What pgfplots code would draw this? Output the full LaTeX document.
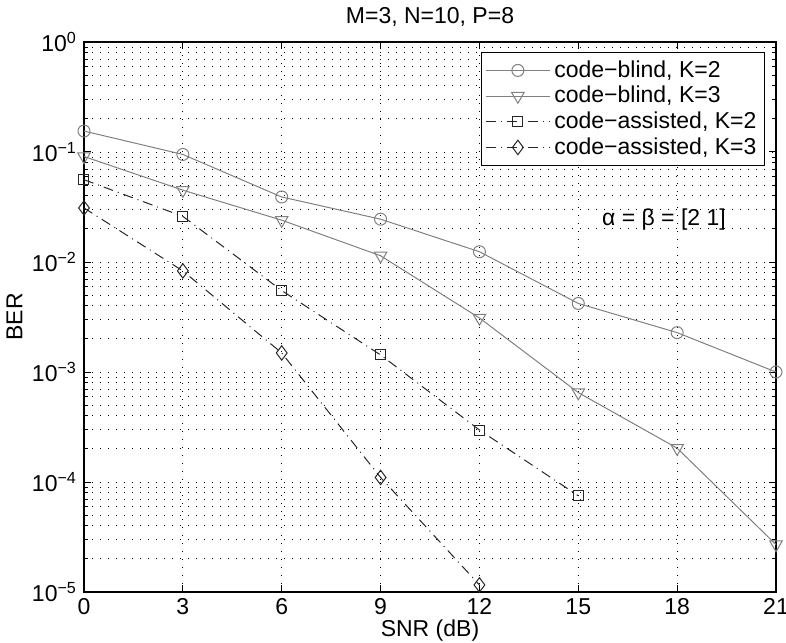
\documentclass[border=0pt]{standalone}
\usepackage{fontspec}
\setmainfont{Liberation Sans}
\usepackage{pgfplots}
\pgfplotsset{compat=1.18}
\newcommand\F{\fontsize{11.5}{13.5}\selectfont}
\begin{document}
\begin{tikzpicture}
\begin{axis}[
  name=ax,
  scale only axis,
  width=346pt, height=275pt,
  ymode=log,
  xmin=0, xmax=21, ymin=1e-5, ymax=1,
  xtick={0,3,...,21},
  xticklabels={0,3,6,9,12,15,18,21},
  ytick={1e-5,1e-4,1e-3,1e-2,1e-1,1},
  yticklabels={10\textsuperscript{−5},10\textsuperscript{−4},10\textsuperscript{−3},10\textsuperscript{−2},10\textsuperscript{−1},10\textsuperscript{0}},
  minor ytick={2e-5,3e-5,4e-5,5e-5,6e-5,7e-5,8e-5,9e-5,2e-4,3e-4,4e-4,5e-4,6e-4,7e-4,8e-4,9e-4,2e-3,3e-3,4e-3,5e-3,6e-3,7e-3,8e-3,9e-3,2e-2,3e-2,4e-2,5e-2,6e-2,7e-2,8e-2,9e-2,0.2,0.3,0.4,0.5,0.6,0.7,0.8,0.9},
  grid=both,
  major grid style={black, line width=0.4pt, dash pattern=on 0.5pt off 3.5pt},
  minor grid style={black, line width=0.4pt, dash pattern=on 0.5pt off 3.5pt},
  tick align=inside,
  major tick length=3.5pt, minor tick length=2pt,
  xtick pos=both, ytick pos=both,
  axis line style={line width=0.6pt},
  every tick/.style={black, line width=0.5pt},
  tick label style={font=\F},
  xticklabel style={inner sep=0pt, yshift=-3pt},
  label style={font=\F},
  xlabel={SNR (dB)}, ylabel={BER},
  xlabel style={at={(axis description cs:0.5,0)}, anchor=north, inner sep=0pt, yshift=-13.5pt},
  ylabel style={yshift=-2pt},
  title={M=3, N=10, P=8},
  title style={font=\F, yshift=-2pt},
  clip=false,
  legend cell align=left,
  legend style={at={(1,1)}, anchor=north east, xshift=-5.5pt, yshift=-5pt,
    draw=black, line width=0.6pt, row sep=-1pt, inner xsep=2pt, inner ysep=2pt,
    font=\F, nodes={inner sep=2pt}},
  legend image code/.code={\draw[mark repeat=2,mark phase=2] plot coordinates {(0pt,0pt) (16pt,0pt) (32pt,0pt)};},
]
\addplot[color=black!50, line width=0.5pt, mark=o, mark size=3pt, mark options={solid}] coordinates {
(0,0.155) (3,0.095) (6,0.039) (9,0.0245) (12,0.0124) (15,0.0042) (18,0.00228) (21,0.00100)};
\addlegendentry{code−blind, K=2}
\addplot[color=black!50, line width=0.5pt, mark=triangle, mark size=3.6pt, mark options={solid, rotate=180}] coordinates {
(0,0.091) (3,0.045) (6,0.024) (9,0.0114) (12,0.0031) (15,0.00065) (18,0.000203) (21,2.7e-5)};
\addlegendentry{code−blind, K=3}
\addplot[color=black!85, line width=0.5pt, dash pattern=on 5pt off 2.5pt on 0.5pt off 2.5pt, mark=square, mark size=2.5pt, mark options={solid}] coordinates {
(0,0.056) (3,0.026) (6,0.0055) (9,0.00143) (12,0.000297) (15,7.5e-5)};
\addlegendentry{code−assisted, K=2}
\addplot[color=black!85, line width=0.5pt, dash pattern=on 5pt off 2.5pt on 0.5pt off 2.5pt, mark=diamond, mark size=3.6pt, mark options={solid}] coordinates {
(0,0.031) (3,0.0083) (6,0.00149) (9,0.00011) (12,1.16e-5)};
\addlegendentry{code−assisted, K=3}
\node[font=\F] at (axis cs:17.6,0.0245) {α = β = [2 1]};
\end{axis}
\pgfresetboundingbox
\path[use as bounding box] ([xshift=-42pt,yshift=-25pt]ax.south west) rectangle ([xshift=5pt,yshift=21pt]ax.north east);
\end{tikzpicture}
\end{document}
